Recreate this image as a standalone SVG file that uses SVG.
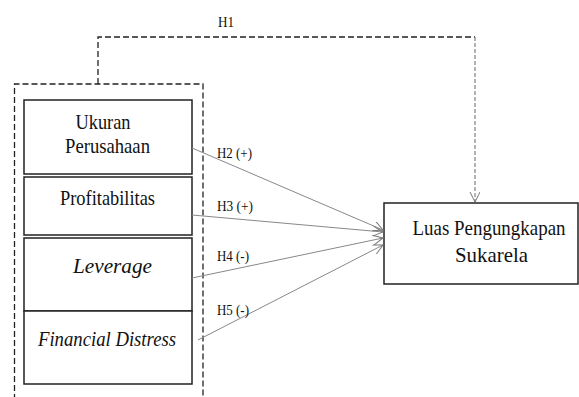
<svg xmlns="http://www.w3.org/2000/svg" width="579" height="397" viewBox="0 0 579 397">
<style>
.box{fill:#fff;stroke:#222;stroke-width:1.5}
.t{font-size:21px;fill:#111;text-anchor:middle}
.i{font-style:italic}
.h{font-size:15px;fill:#111}
.dash{fill:none;stroke:#222;stroke-width:1.3;stroke-dasharray:6,3}
.arr{fill:none;stroke:#888;stroke-width:1}
</style>
<defs>
<marker id="ah" markerWidth="12" markerHeight="12" refX="10" refY="5" orient="auto" markerUnits="userSpaceOnUse">
<path d="M0,0 L10,5 L0,10" fill="none" stroke="#777" stroke-width="1"/>
</marker>
</defs>
<g id="group-box">
<path class="dash" d="M14.5,400 L14.5,84 L203,84 L203,400"/>
</g>
<g font-family="Times New Roman, Liberation Serif, DejaVu Serif, serif">
<g id="n1"><rect class="box" x="24" y="100" width="168" height="74"/>
<text class="t" x="103" y="129" textLength="55" lengthAdjust="spacingAndGlyphs">Ukuran</text>
<text class="t" x="107.5" y="153" textLength="85" lengthAdjust="spacingAndGlyphs">Perusahaan</text></g>
<g id="n2"><rect class="box" x="24" y="177" width="168" height="58"/>
<text class="t" x="107.5" y="205" textLength="95" lengthAdjust="spacingAndGlyphs">Profitabilitas</text></g>
<g id="n3"><rect class="box" x="24" y="238" width="168" height="73"/>
<text class="t i" x="112.5" y="273" textLength="79" lengthAdjust="spacingAndGlyphs">Leverage</text></g>
<g id="n4"><rect class="box" x="24" y="311" width="168" height="73"/>
<text class="t i" x="107" y="345.5" textLength="138" lengthAdjust="spacingAndGlyphs">Financial Distress</text></g>
<g id="n5"><rect class="box" x="384" y="203" width="194" height="81"/>
<text class="t" x="489" y="235" textLength="153" lengthAdjust="spacingAndGlyphs">Luas Pengungkapan</text>
<text class="t" x="491.5" y="262" textLength="73" lengthAdjust="spacingAndGlyphs">Sukarela</text></g>
<g id="connectors">
<path class="dash" d="M98,84 L98,37 L475,37"/>
<path d="M475,37 L475,202" fill="none" stroke="#666" stroke-width="1" stroke-dasharray="4,2" marker-end="url(#ah)"/>
<line class="arr" x1="192" y1="148" x2="383" y2="230" marker-end="url(#ah)"/>
<line class="arr" x1="192" y1="215" x2="383" y2="232" marker-end="url(#ah)"/>
<line class="arr" x1="192" y1="278" x2="383" y2="238" marker-end="url(#ah)"/>
<line class="arr" x1="198" y1="340" x2="383" y2="245" marker-end="url(#ah)"/>
<text class="h" x="218" y="27" textLength="16" lengthAdjust="spacingAndGlyphs">H1</text>
<text class="h" x="217" y="158" textLength="35" lengthAdjust="spacingAndGlyphs">H2 (+)</text>
<text class="h" x="217" y="211" textLength="36" lengthAdjust="spacingAndGlyphs">H3 (+)</text>
<text class="h" x="217" y="261" textLength="32" lengthAdjust="spacingAndGlyphs">H4 (-)</text>
<text class="h" x="217" y="315" textLength="32" lengthAdjust="spacingAndGlyphs">H5 (-)</text>
</g>
</g>
</svg>
